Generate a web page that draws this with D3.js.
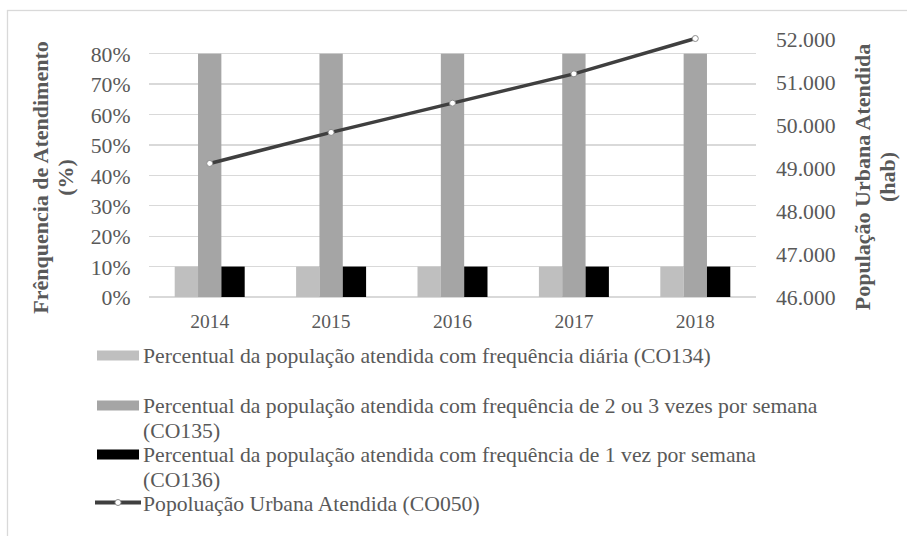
<!DOCTYPE html>
<meta charset="utf-8">
<style>

body {
  margin: 0;
  background: #fff;
}

svg text {
  font-family: "Liberation Serif", "Times New Roman", serif;
  fill: #595959;
}

.axis path {
  display: none;
}

.axis text {
  font-size: 21.7px;
}

.axis--x text {
  font-size: 19.5px;
}

.grid line {
  stroke: #d9d9d9;
  stroke-width: 1.3px;
  shape-rendering: crispEdges;
}

.title {
  font-size: 22px;
  font-weight: bold;
}

.legend text {
  font-size: 21.7px;
}

</style>
<svg width="907" height="536"></svg>
<script src="https://d3js.org/d3.v7.min.js"></script>
<script>

var years = ["2014", "2015", "2016", "2017", "2018"];

var diaria = [0.10, 0.10, 0.10, 0.10, 0.10];          // CO134
var duasTres = [0.80, 0.80, 0.80, 0.80, 0.80];        // CO135
var umaVez = [0.10, 0.10, 0.10, 0.10, 0.10];          // CO136
var populacao = [49100, 49820, 50500, 51180, 52000];  // CO050

var leftTicks = [0, 0.1, 0.2, 0.3, 0.4, 0.5, 0.6, 0.7, 0.8];
var rightTicks = [46000, 47000, 48000, 49000, 50000, 51000, 52000];

var barKeys = ["CO134", "CO135", "CO136"];
var barSeries = [diaria, duasTres, umaVez];
var barColors = ["#bfbfbf", "#a5a5a5", "#000000"];

var legendLabels = [
  "Percentual da população atendida com frequência diária (CO134)",
  "Percentual da população atendida com frequência de 2 ou 3 vezes por semana\n(CO135)",
  "Percentual da população atendida com frequência de 1 vez por semana\n(CO136)",
  "Popoluação Urbana Atendida (CO050)"
];

var svg = d3.select("svg");

var plot = {left: 149, right: 756, top: 38.5, bottom: 297};

svg.append("rect")
    .attr("x", 7.5)
    .attr("y", 10.5)
    .attr("width", 910)
    .attr("height", 540)
    .attr("fill", "#fff")
    .attr("stroke", "#d9d9d9")
    .attr("stroke-width", 1.3);

var x = d3.scaleBand()
    .domain(years)
    .range([plot.left, plot.right])
    .paddingInner(0.4235)
    .paddingOuter(0.21175);

var x1 = d3.scaleBand()
    .domain(barKeys)
    .range([0, x.bandwidth()]);

var yL = d3.scaleLinear()
    .domain([0, 0.85])
    .range([plot.bottom, plot.top]);

var yR = d3.scaleLinear()
    .domain([46000, 52000])
    .range([plot.bottom, plot.top]);

var locale = d3.formatLocale({decimal: ",", thousands: ".", grouping: [3], currency: ["R$", ""]});

// gridlines
svg.append("g")
    .attr("class", "grid")
  .selectAll("line")
    .data(leftTicks)
  .enter().append("line")
    .attr("x1", plot.left)
    .attr("x2", plot.right)
    .attr("y1", function(d) { return yL(d); })
    .attr("y2", function(d) { return yL(d); });

// bars
var rows = years.map(function(year, i) {
  return barKeys.map(function(key, k) {
    return {year: year, key: key, value: barSeries[k][i], color: barColors[k]};
  });
});

svg.append("g")
  .selectAll("g")
    .data(rows)
  .enter().append("g")
    .attr("transform", function(d) { return "translate(" + x(d[0].year) + ",0)"; })
  .selectAll("rect")
    .data(function(d) { return d; })
  .enter().append("rect")
    .attr("x", function(d) { return x1(d.key); })
    .attr("width", x1.bandwidth())
    .attr("y", function(d) { return yL(d.value); })
    .attr("height", function(d) { return yL(0) - yL(d.value); })
    .attr("fill", function(d) { return d.color; });

// line
var linePts = years.map(function(year, i) { return {year: year, value: populacao[i]}; });

svg.append("path")
    .datum(linePts)
    .attr("fill", "none")
    .attr("stroke", "#3f3f3f")
    .attr("stroke-width", 3.5)
    .attr("d", d3.line()
        .x(function(d) { return x(d.year) + x.bandwidth() / 2; })
        .y(function(d) { return yR(d.value); }));

svg.append("g")
  .selectAll("circle")
    .data(linePts)
  .enter().append("circle")
    .attr("cx", function(d) { return x(d.year) + x.bandwidth() / 2; })
    .attr("cy", function(d) { return yR(d.value); })
    .attr("r", 3)
    .attr("fill", "#fff")
    .attr("stroke", "#8c8c8c")
    .attr("stroke-width", 1);

// axes
svg.append("g")
    .attr("class", "axis axis--left")
    .attr("transform", "translate(" + plot.left + ",0)")
    .call(d3.axisLeft(yL).tickValues(leftTicks).tickSize(0).tickPadding(18.5).tickFormat(d3.format(".0%")))
  .selectAll("text")
    .attr("dy", "0.36em");

svg.append("g")
    .attr("class", "axis axis--right")
    .attr("transform", "translate(" + plot.right + ",0)")
    .call(d3.axisRight(yR).tickValues(rightTicks).tickSize(0).tickPadding(20).tickFormat(locale.format(",.0f")))
  .selectAll("text")
    .attr("dy", "0.36em");

svg.append("g")
    .attr("class", "axis axis--x")
    .attr("transform", "translate(0," + plot.bottom + ")")
    .call(d3.axisBottom(x).tickSize(0).tickPadding(17));

// axis titles
function title(px, py, lines) {
  var t = svg.append("text")
      .attr("class", "title")
      .attr("text-anchor", "middle")
      .attr("transform", "translate(" + px + "," + py + ") rotate(-90)");
  t.selectAll("tspan")
      .data(lines)
    .enter().append("tspan")
      .attr("x", 0)
      .attr("y", function(d, i) { return i * 25; })
      .text(function(d) { return d; });
}

title(47.5, 177.5, ["Frênquencia de Atendimento", "(%)"]);
title(870, 177, ["População Urbana Atendida", "(hab)"]);

// legend
var legendY = [362.5, 412.5, 461.5, 510.5];

var legend = svg.append("g")
    .attr("class", "legend")
  .selectAll("g")
    .data(legendLabels)
  .enter().append("g")
    .attr("transform", function(d, i) { return "translate(0," + legendY[i] + ")"; });

legend.filter(function(d, i) { return i < 3; })
  .append("rect")
    .attr("x", 97)
    .attr("y", -12)
    .attr("width", 42)
    .attr("height", 10)
    .attr("fill", function(d, i) { return barColors[i]; });

var lineKey = legend.filter(function(d, i) { return i === 3; });

lineKey.append("line")
    .attr("x1", 95)
    .attr("x2", 141)
    .attr("y1", -8)
    .attr("y2", -8)
    .attr("stroke", "#3f3f3f")
    .attr("stroke-width", 4);

lineKey.append("circle")
    .attr("cx", 118)
    .attr("cy", -8)
    .attr("r", 3)
    .attr("fill", "#fff")
    .attr("stroke", "#8c8c8c");

legend.append("text")
  .selectAll("tspan")
    .data(function(d) { return d.split("\n"); })
  .enter().append("tspan")
    .attr("x", 143)
    .attr("y", function(d, i) { return i * 25; })
    .text(function(d) { return d; });

</script>
